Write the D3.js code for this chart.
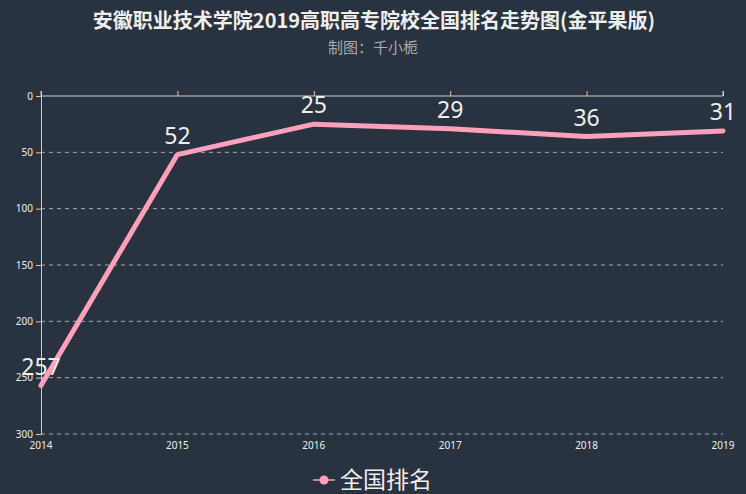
<!DOCTYPE html>
<html>
<head>
<meta charset="utf-8">
<script src="https://cdn.jsdelivr.net/npm/d3@7"></script>
<style>
  body { margin: 0; background: #28333f; }
  svg { display: block; font-family: "Noto Sans CJK SC", "Noto Sans", sans-serif; }
</style>
</head>
<body>
<svg id="chart"></svg>
<script>
// chart data
const years = ["2014", "2015", "2016", "2017", "2018", "2019"];
const ranks = [257, 52, 25, 29, 36, 31];
const yTicks = [0, 50, 100, 150, 200, 250, 300];
const titleText = "安徽职业技术学院2019高职高专院校全国排名走势图(金平果版)";
const subText = "制图：千小栀";
const seriesName = "全国排名";

const width = 746;
const height = 494;
const margin = { top: 96, right: 23, bottom: 60, left: 41 };

const svg = d3.select("#chart")
  .attr("width", width)
  .attr("height", height);

svg.append("rect")
  .attr("width", width)
  .attr("height", height)
  .attr("fill", "#28333f");

// scales
const x = d3.scalePoint()
  .domain(years)
  .range([margin.left, width - margin.right]);

const y = d3.scaleLinear()
  .domain([0, 300])
  .range([margin.top, height - margin.bottom]);

// title
svg.append("text")
  .attr("x", width / 2 + 1)
  .attr("y", 28)
  .attr("text-anchor", "middle")
  .attr("fill", "#eeeeee")
  .attr("font-size", 20)
  .attr("font-weight", "bold")
  .text(titleText);

svg.append("text")
  .attr("x", width / 2)
  .attr("y", 53)
  .attr("text-anchor", "middle")
  .attr("fill", "#aaaaaa")
  .attr("font-size", 15)
  .text(subText);

// grid lines (dashed)
svg.append("g")
  .selectAll("line")
  .data(yTicks.filter(d => d > 0))
  .enter()
  .append("line")
  .attr("x1", margin.left)
  .attr("x2", width - margin.right)
  .attr("y1", d => y(d))
  .attr("y2", d => y(d))
  .attr("stroke", "#aaaaaa")
  .attr("stroke-width", 1)
  .attr("stroke-dasharray", "4,4");

// y axis
const yAxis = svg.append("g")
  .attr("transform", `translate(${margin.left},0)`)
  .call(d3.axisLeft(y).tickValues(yTicks).tickSize(5).tickPadding(3));
yAxis.select(".domain").attr("stroke", "#cccccc");
yAxis.selectAll(".tick line").attr("stroke", "#cccccc");
yAxis.selectAll("text").attr("fill", "#eeeeee").attr("font-size", 10).style("font-family", "Noto Sans");

// x axis line at value 0 (top), ticks upward
const xAxisTop = svg.append("g")
  .attr("transform", `translate(0,${y(0)})`)
  .call(d3.axisTop(x).tickSize(5).tickFormat(""));
xAxisTop.select(".domain").attr("stroke", "#cccccc").attr("d", `M${margin.left},-5V0H${width - margin.right}V-5`);
xAxisTop.selectAll(".tick line").attr("stroke", "#cccccc");

// x labels at bottom
svg.append("g")
  .selectAll("text")
  .data(years)
  .enter()
  .append("text")
  .attr("x", d => x(d))
  .attr("y", y(300) + 15)
  .attr("text-anchor", "middle")
  .attr("fill", "#eeeeee")
  .attr("font-size", 10)
  .style("font-family", "Noto Sans")
  .text(d => d);

// line
const line = d3.line()
  .x((d, i) => x(years[i]))
  .y(d => y(d));

svg.append("path")
  .datum(ranks)
  .attr("d", line)
  .attr("fill", "none")
  .attr("stroke", "#ff9fba")
  .attr("stroke-width", 5)
  .attr("stroke-linejoin", "round")
  .attr("stroke-linecap", "round");

// value labels
svg.append("g")
  .selectAll("text")
  .data(ranks)
  .enter()
  .append("text")
  .attr("x", (d, i) => x(years[i]))
  .attr("y", d => y(d) - 11)
  .attr("text-anchor", "middle")
  .attr("fill", "#eeeeee")
  .attr("font-size", 23)
  .style("font-family", "Noto Sans")
  .text(d => d);

// legend
const legend = svg.append("g")
  .attr("transform", `translate(313,480)`);
legend.append("line")
  .attr("x1", 0).attr("x2", 22)
  .attr("stroke", "#ff9fba").attr("stroke-width", 1.5);
legend.append("circle")
  .attr("cx", 11).attr("r", 4.5)
  .attr("fill", "#ff9fba");
legend.append("text")
  .attr("x", 27)
  .attr("y", 8)
  .attr("fill", "#eeeeee")
  .attr("font-size", 23)
  .text(seriesName);
</script>
</body>
</html>
